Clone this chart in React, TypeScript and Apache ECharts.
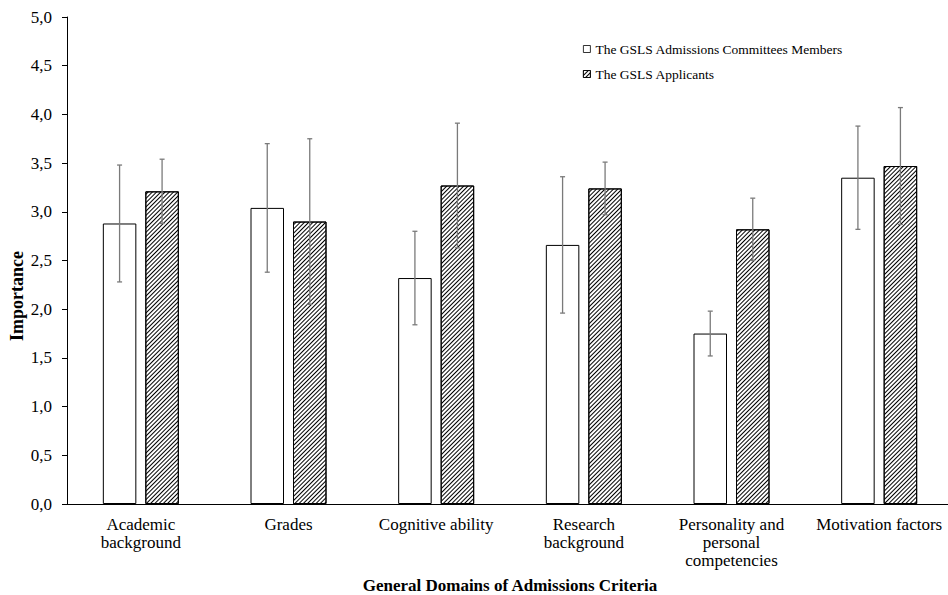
import React, { useEffect, useRef } from "react";
import * as echarts from "echarts";

const categories = [
  "Academic\nbackground",
  "Grades",
  "Cognitive ability",
  "Research\nbackground",
  "Personality and\npersonal\ncompetencies",
  "Motivation factors",
];
const committeeMeans = [2.88, 3.04, 2.32, 2.66, 1.75, 3.35];
const committeeSd = [0.6, 0.66, 0.48, 0.7, 0.23, 0.53];
const applicantMeans = [3.21, 2.9, 3.27, 3.24, 2.82, 3.47];
const applicantSd = [0.33, 0.85, 0.64, 0.27, 0.32, 0.6];
const seriesNames = ["The GSLS Admissions Committees Members", "The GSLS Applicants"];
const yTicks = { min: 0, max: 5, interval: 0.5 };
const xTitle = "General Domains of Admissions Criteria";
const yTitle = "Importance";

const FONT = "'Liberation Serif', 'Times New Roman', serif";
const BAR_W = 33.5;
const BAR_GAP = 9;

function errorSeries(means: number[], sds: number[], offset: number, name: string) {
  return {
    type: "custom",
    name: name + " error",
    z: 5,
    silent: true,
    data: means.map((m, i) => [i, m, sds[i]]),
    renderItem: (params: any, api: any) => {
      const i = api.value(0);
      const m = api.value(1);
      const sd = api.value(2);
      const top = api.coord([i, m + sd]);
      const bot = api.coord([i, m - sd]);
      const x = top[0] + offset;
      const cap = 2.5;
      const style = { stroke: "#7a7a7a", lineWidth: 1.3 };
      return {
        type: "group",
        children: [
          { type: "line", shape: { x1: x, y1: top[1], x2: x, y2: bot[1] }, style },
          { type: "line", shape: { x1: x - cap, y1: top[1], x2: x + cap, y2: top[1] }, style },
          { type: "line", shape: { x1: x - cap, y1: bot[1], x2: x + cap, y2: bot[1] }, style },
        ],
      };
    },
  };
}

export default function App() {
  const ref = useRef<HTMLDivElement>(null);
  useEffect(() => {
    document.body.style.margin = "0";
    if (!ref.current) return;
    const chart = echarts.init(ref.current, null, { renderer: "svg" });
    const off = (BAR_W + BAR_GAP) / 2;
    const hatch = {
      symbol: "rect",
      color: "#000",
      dashArrayX: [1, 0],
      dashArrayY: [1, 2],
      rotation: -Math.PI / 4,
      symbolSize: 1,
    };
    chart.setOption({
      animation: false,
      backgroundColor: "#fff",
      textStyle: { fontFamily: FONT, color: "#000" },
      grid: { left: 67, top: 17, height: 487, width: 886, containLabel: false, outerBoundsMode: "none" },
      legend: {
        orient: "vertical",
        left: 578,
        top: 37,
        itemWidth: 7,
        itemHeight: 7,
        itemGap: 11,
        icon: "rect",
        data: seriesNames,
        itemStyle: { borderWidth: 0.8 },
        textStyle: { fontFamily: FONT, fontSize: 13.5, color: "#000" },
      },
      graphic: [
        {
          type: "text",
          x: 17,
          y: 296,
          rotation: Math.PI / 2,
          style: {
            text: yTitle,
            align: "center",
            verticalAlign: "middle",
            fontFamily: FONT,
            fontSize: 18,
            fontWeight: "bold",
            fill: "#000",
          },
        },
      ],
      xAxis: {
        type: "category",
        data: categories,
        axisLine: { lineStyle: { color: "#000", width: 1 } },
        axisTick: { show: false },
        axisLabel: {
          fontFamily: FONT,
          fontSize: 17,
          color: "#000",
          lineHeight: 18,
          margin: 11,
          interval: 0,
        },
        name: xTitle,
        nameLocation: "middle",
        nameGap: 73,
        nameTextStyle: { fontFamily: FONT, fontSize: 17, fontWeight: "bold", color: "#000" },
      },
      yAxis: {
        type: "value",
        min: yTicks.min,
        max: yTicks.max,
        interval: yTicks.interval,
        axisLine: { show: true, lineStyle: { color: "#000", width: 1 } },
        axisTick: { show: true, length: 5, lineStyle: { color: "#000" } },
        splitLine: { show: false },
        axisLabel: {
          fontFamily: FONT,
          fontSize: 17,
          color: "#000",
          margin: 15,
          formatter: (v: number) => v.toFixed(1).replace(".", ","),
        },
      },
      series: [
        {
          type: "bar",
          name: seriesNames[0],
          data: committeeMeans,
          barWidth: BAR_W,
          barGap: (BAR_GAP / BAR_W) * 100 + "%",
          itemStyle: { color: "#fff", borderColor: "#000", borderWidth: 1 },
        },
        {
          type: "bar",
          name: seriesNames[1],
          data: applicantMeans,
          barWidth: BAR_W,
          itemStyle: { color: "#fff", borderColor: "#000", borderWidth: 1, decal: hatch },
        },
        errorSeries(committeeMeans, committeeSd, -off, seriesNames[0]),
        errorSeries(applicantMeans, applicantSd, off, seriesNames[1]),
      ],
    });
    return () => chart.dispose();
  }, []);
  return <div ref={ref} style={{ width: 948, height: 595 }} />;
}
